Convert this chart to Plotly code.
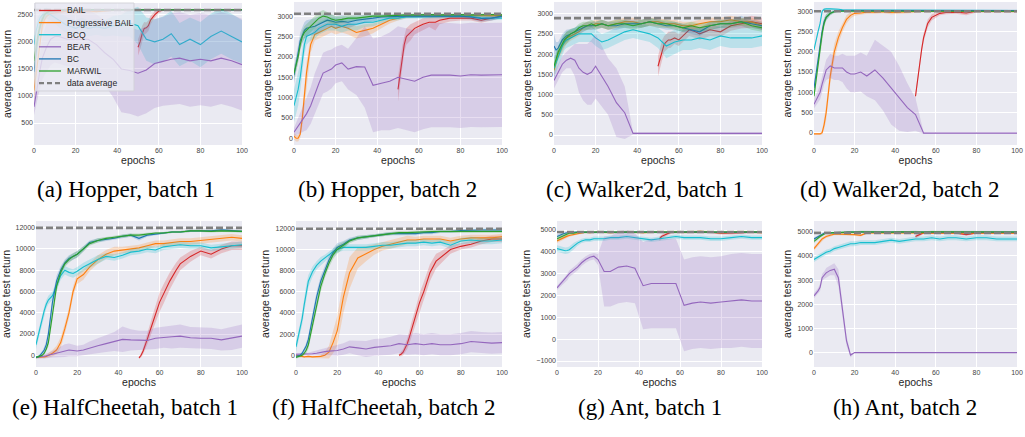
import numpy as np
import plotly.graph_objects as go

W, H = 1025, 437

# ---------------- data ----------------
X = [0, 1, 2, 3, 4, 5, 6, 8, 10, 12, 14, 16, 18, 20, 23, 26, 30, 34, 38, 42, 46,
     50, 54, 58, 62, 66, 70, 75, 80, 85, 90, 95, 100]
XR = [50, 51, 52, 53, 54, 55, 56, 58, 60, 62, 65, 68, 70, 75, 80, 85, 90, 95, 100]

SERIES = ["BAIL", "Progressive BAIL", "BCQ", "BEAR", "BC", "MARWIL"]
COLORS = {"BAIL": "#d62728", "Progressive BAIL": "#ff7f0e", "BCQ": "#17becf",
          "BEAR": "#9467bd", "BC": "#1f77b4", "MARWIL": "#2ca02c"}

# (a) Hopper, batch 1
HOP1_AVG = 2590
HOP1_BAIL = [1900, 2000, 2150, 2250, 2260, 2300, 2400, 2500, 2570, 2590, 2595, 2595, 2595, 2595, 2590, 2595, 2595, 2590, 2595]
HOP1_BAIL_SD = [150, 150, 150, 120, 100, 100, 80, 60, 40, 20, 10, 10, 10, 10, 10, 10, 10, 10, 10]
HOP1_PB = [1100, 1400, 1800, 2100, 2300, 2400, 2470, 2520, 2540, 2550, 2560, 2570, 2560, 2550, 2560, 2570, 2560, 2575, 2585, 2590, 2590,
           2595, 2595, 2590, 2595, 2595, 2590, 2595, 2595, 2590, 2595, 2595, 2595]
HOP1_PB_SD = [200, 200, 200, 150, 120, 100, 80, 60, 50, 40, 40, 40, 40, 40, 40, 40, 30, 20, 15, 10, 10,
              10, 10, 10, 10, 10, 10, 10, 10, 10, 10, 10, 10]
HOP1_BCQ = [1950, 2200, 2350, 2450, 2500, 2520, 2530, 2500, 2450, 2400, 2350, 2300, 2280, 2250, 2300, 2250, 2280, 2250, 2300, 2300, 2350,
            2300, 2050, 2000, 2050, 2150, 1950, 2050, 1950, 2100, 2200, 2100, 2000]
HOP1_BCQ_SD = [150, 150, 120, 100, 100, 100, 100, 100, 120, 130, 150, 150, 150, 150, 150, 150, 150, 150, 180, 200, 250,
               350, 400, 420, 420, 420, 400, 400, 420, 420, 420, 420, 400]
HOP1_BEAR = [800, 1050, 1300, 1500, 1700, 1800, 1900, 2050, 2100, 2100, 2080, 2050, 2050, 2050, 2050, 2050, 1950, 1800, 1680, 1500, 1470,
             1420, 1480, 1600, 1640, 1680, 1700, 1650, 1680, 1650, 1700, 1650, 1580]
HOP1_BEAR_SD = [150, 200, 300, 350, 400, 420, 450, 480, 480, 500, 500, 500, 500, 520, 520, 540, 560, 600, 700, 800, 800,
                800, 800, 820, 820, 850, 850, 850, 850, 850, 850, 850, 850]
HOP1_BC = [1450, 1800, 2100, 2300, 2430, 2500, 2540, 2570, 2580, 2590, 2590, 2595, 2595, 2590, 2595, 2595, 2590, 2595, 2595, 2590, 2595,
           2595, 2595, 2595, 2590, 2595, 2595, 2590, 2595, 2595, 2595, 2595, 2590]
HOP1_BC_SD = [150, 200, 150, 120, 100, 80, 60, 40, 30, 20, 15, 10, 10, 10, 10, 10, 10, 10, 10, 10, 10,
              10, 10, 10, 10, 10, 10, 10, 10, 10, 10, 10, 10]
HOP1_MW = [1650, 1900, 2150, 2300, 2420, 2500, 2540, 2570, 2585, 2590, 2595, 2595, 2595, 2595, 2595, 2590, 2595, 2595, 2590, 2595, 2595,
           2595, 2595, 2590, 2595, 2595, 2595, 2595, 2590, 2595, 2595, 2590, 2595]
HOP1_MW_SD = [150, 150, 120, 100, 80, 60, 50, 40, 30, 20, 15, 10, 10, 10, 10, 10, 10, 10, 10, 10, 10,
              10, 10, 10, 10, 10, 10, 10, 10, 10, 10, 10, 10]

# (b) Hopper, batch 2
HOP2_AVG = 3060
HOP2_BAIL = [1200, 1600, 2000, 2300, 2500, 2550, 2600, 2700, 2750, 2800, 2850, 2850, 2900, 2950, 2950, 2950, 2900, 2950, 3000]
HOP2_BAIL_SD = [300, 300, 250, 200, 200, 200, 200, 150, 150, 150, 120, 200, 100, 80, 60, 60, 60, 60, 50]
HOP2_PB = [50, 0, 0, 100, 500, 1000, 1600, 2300, 2550, 2600, 2650, 2700, 2750, 2700, 2750, 2700, 2600, 2650, 2700, 2800, 2900,
           2950, 3000, 3000, 3000, 3010, 3010, 3010, 3010, 3000, 3010, 3010, 3010]
HOP2_PB_SD = [80, 80, 80, 100, 200, 250, 250, 200, 150, 150, 150, 150, 150, 150, 150, 150, 150, 150, 120, 100, 80,
              60, 50, 40, 40, 40, 40, 40, 40, 40, 40, 40, 40]
HOP2_BCQ = [800, 1000, 1200, 1500, 1900, 2300, 2500, 2550, 2600, 2700, 2750, 2800, 2800, 2800, 2750, 2800, 2800, 2850, 2850, 2900, 2950,
            2950, 2980, 2980, 2980, 2990, 2990, 2990, 3000, 2990, 2960, 2950, 2950]
HOP2_BCQ_SD = [400, 400, 400, 350, 300, 250, 200, 150, 150, 150, 150, 150, 150, 150, 150, 150, 150, 120, 100, 80, 60,
               50, 40, 40, 40, 40, 40, 40, 40, 40, 50, 50, 40]
HOP2_BEAR = [150, 220, 300, 380, 450, 530, 600, 800, 1100, 1350, 1600, 1650, 1700, 1800, 1850, 1700, 1760, 1750, 1300, 1350, 1400,
             1500, 1450, 1400, 1500, 1550, 1550, 1550, 1530, 1560, 1550, 1550, 1560]
HOP2_BEAR_SD = [100, 150, 200, 250, 300, 350, 400, 450, 500, 500, 500, 500, 480, 450, 450, 500, 700, 1000, 1150, 1150, 1200,
                1250, 1250, 1250, 1280, 1280, 1280, 1280, 1280, 1280, 1280, 1280, 1280]
HOP2_BC = [1550, 1800, 2100, 2400, 2550, 2650, 2700, 2720, 2750, 2800, 2850, 2900, 2880, 2850, 2870, 2850, 2900, 2920, 2950, 2980, 2990,
           3000, 3000, 3000, 3000, 3010, 3000, 3000, 3000, 2980, 2940, 2950, 3000]
HOP2_BC_SD = [200, 200, 200, 200, 200, 200, 200, 200, 200, 200, 200, 180, 150, 150, 150, 150, 120, 100, 80, 60, 50,
              40, 40, 40, 40, 40, 40, 40, 50, 60, 80, 60, 40]
HOP2_MW = [1600, 1800, 2000, 2300, 2500, 2600, 2650, 2750, 2850, 2950, 3000, 2980, 2930, 2900, 2920, 2950, 2950, 2980, 3000, 3000, 3010,
           3030, 3030, 3030, 3040, 3040, 3030, 3040, 3040, 3030, 3040, 3040, 3030]
HOP2_MW_SD = [150, 150, 150, 150, 150, 150, 150, 150, 150, 150, 150, 120, 100, 100, 80, 80, 60, 50, 40, 40, 30,
              30, 30, 30, 30, 30, 30, 30, 30, 30, 30, 30, 30]

# (c) Walker2d, batch 1
WAL1_AVG = 2890
WAL1_BAIL = [1700, 1900, 2100, 2250, 2300, 2350, 2350, 2400, 2350, 2450, 2600, 2550, 2500, 2600, 2550, 2700, 2750, 2800, 2750]
WAL1_BAIL_SD = [250, 250, 250, 200, 200, 200, 200, 150, 150, 150, 150, 150, 150, 150, 120, 120, 120, 150, 150]
WAL1_PB = [1600, 1800, 2000, 2100, 2200, 2300, 2400, 2450, 2500, 2550, 2650, 2700, 2700, 2750, 2750, 2700, 2750, 2800, 2800, 2750, 2800,
           2800, 2750, 2750, 2700, 2700, 2750, 2800, 2800, 2850, 2800, 2800, 2700]
WAL1_PB_SD = [150, 150, 150, 150, 150, 150, 150, 120, 100, 100, 100, 100, 100, 100, 100, 100, 100, 100, 100, 100, 100,
              100, 100, 100, 100, 100, 100, 100, 100, 100, 100, 100, 100]
WAL1_BCQ = [1650, 1800, 1900, 2050, 2200, 2300, 2350, 2400, 2450, 2500, 2500, 2500, 2500, 2400, 2300, 2350, 2450, 2550, 2600, 2550, 2500,
            2400, 2200, 2300, 2350, 2350, 2400, 2350, 2450, 2400, 2400, 2400, 2450]
WAL1_BCQ_SD = [250, 250, 250, 250, 250, 200, 200, 200, 200, 200, 200, 200, 200, 200, 200, 200, 200, 200, 200, 200, 200,
               250, 300, 300, 250, 250, 250, 250, 250, 250, 250, 250, 250]
WAL1_BEAR = [1350, 1450, 1550, 1650, 1750, 1800, 1850, 1900, 1850, 1650, 1550, 1500, 1550, 1700, 1450, 1200, 800, 550, 40, 40, 40,
             40, 40, 40, 40, 40, 40, 40, 40, 40, 40, 40, 40]
WAL1_BEAR_SD = [200, 200, 200, 200, 200, 200, 200, 250, 400, 600, 700, 750, 800, 800, 750, 700, 850, 650, 30, 30, 30,
                30, 30, 30, 30, 30, 30, 30, 30, 30, 30, 30, 30]
WAL1_BC = [2200, 2100, 2150, 2250, 2350, 2400, 2450, 2500, 2550, 2600, 2650, 2700, 2700, 2700, 2750, 2700, 2700, 2750, 2750, 2750, 2800,
           2750, 2700, 2700, 2650, 2600, 2550, 2700, 2750, 2750, 2800, 2750, 2700]
WAL1_BC_SD = [300, 200, 150, 150, 150, 150, 150, 120, 100, 100, 100, 100, 100, 100, 100, 100, 100, 100, 100, 100, 100,
              100, 100, 100, 100, 100, 100, 100, 100, 100, 150, 100, 100]
WAL1_MW = [1700, 1900, 2050, 2150, 2250, 2350, 2400, 2500, 2550, 2650, 2700, 2700, 2750, 2700, 2750, 2700, 2750, 2750, 2700, 2750, 2800,
           2750, 2750, 2700, 2650, 2700, 2650, 2700, 2750, 2750, 2800, 2700, 2650]
WAL1_MW_SD = [150, 150, 150, 150, 150, 150, 150, 120, 100, 100, 100, 100, 100, 100, 100, 100, 100, 100, 100, 100, 100,
              100, 100, 100, 100, 100, 100, 100, 100, 100, 100, 100, 100]

# (d) Walker2d, batch 2
WAL2_AVG = 3000
WAL2_BAIL = [900, 1300, 1700, 2050, 2350, 2550, 2700, 2850, 2900, 2950, 2970, 2980, 2980, 2960, 3000, 3000, 3000, 3000, 3000]
WAL2_BAIL_SD = [100, 100, 100, 100, 100, 100, 100, 80, 60, 50, 40, 40, 40, 60, 30, 30, 30, 30, 30]
WAL2_PB = [-30, -30, -30, -30, 0, 200, 500, 1400, 2000, 2350, 2600, 2800, 2900, 2950, 2960, 2980, 2980, 2990, 2970, 2980, 2990,
           3000, 3000, 3000, 3000, 3000, 3000, 3000, 3000, 3000, 3000, 3000, 3000]
WAL2_PB_SD = [20, 20, 20, 20, 50, 120, 180, 200, 200, 150, 120, 100, 80, 60, 50, 40, 40, 40, 40, 40, 40,
              30, 30, 30, 30, 30, 30, 30, 30, 30, 30, 30, 30]
WAL2_BCQ = [2050, 2300, 2500, 2700, 3000, 3050, 3060, 3060, 3060, 3050, 3040, 3030, 3030, 3030, 3030, 3020, 3020, 3020, 3020, 3020, 3020,
            3020, 3020, 3020, 3020, 3020, 3020, 3020, 3020, 3020, 3020, 3020, 3020]
WAL2_BCQ_SD = [50, 50, 50, 50, 40, 30, 20, 20, 20, 20, 20, 20, 20, 20, 20, 20, 20, 20, 20, 20, 20,
               20, 20, 20, 20, 20, 20, 20, 20, 20, 20, 20, 20]
WAL2_BEAR = [700, 800, 900, 1000, 1200, 1400, 1550, 1650, 1600, 1600, 1600, 1500, 1450, 1450, 1500, 1400, 1550, 1350, 1100, 850, 620,
             450, -10, -10, -10, -10, -10, -10, -10, -10, -10, -10, -10]
WAL2_BEAR_SD = [100, 120, 150, 180, 200, 200, 250, 300, 300, 300, 350, 400, 450, 450, 480, 500, 750, 800, 900, 800, 600,
                400, 20, 10, 10, 10, 10, 10, 10, 10, 10, 10, 10]
WAL2_BC = [1100, 1450, 1800, 2200, 2500, 2750, 2850, 2950, 3000, 3010, 3020, 3020, 3020, 3020, 3020, 3020, 3020, 3020, 3020, 3020, 3020,
           3020, 3020, 3020, 3020, 3020, 3020, 3020, 3020, 3020, 3020, 3020, 3020]
WAL2_BC_SD = [100, 100, 150, 150, 150, 100, 80, 50, 30, 20, 20, 20, 20, 20, 20, 20, 20, 20, 20, 20, 20,
              20, 20, 20, 20, 20, 20, 20, 20, 20, 20, 20, 20]
WAL2_MW = [900, 1300, 1700, 2100, 2450, 2700, 2850, 2950, 2990, 3000, 3000, 3000, 3000, 3000, 3000, 3000, 3000, 3000, 3000, 3000, 3000,
           3000, 3000, 3000, 3000, 3000, 3000, 3000, 3000, 3000, 3000, 3000, 3000]
WAL2_MW_SD = [80, 100, 120, 120, 120, 100, 80, 50, 30, 20, 20, 20, 20, 20, 20, 20, 20, 20, 20, 20, 20,
              20, 20, 20, 20, 20, 20, 20, 20, 20, 20, 20, 20]

# (e) HalfCheetah, batch 1
HC1_AVG = 11980
HC1_BAIL = [-250, 0, 400, 900, 1500, 2100, 2700, 3800, 5000, 5800, 7000, 8000, 8600, 9300, 9800, 9500, 10000, 10300, 10300]
HC1_BAIL_SD = [100, 200, 300, 400, 500, 600, 700, 800, 900, 900, 800, 700, 600, 500, 400, 400, 400, 400, 400]
HC1_PB = [-200, -200, -200, -180, -150, -100, 0, 200, 500, 1200, 2500, 4000, 6000, 7200, 7600, 8300, 9000, 9500, 9800, 9900, 10000,
          10100, 10300, 10500, 10500, 10600, 10700, 10700, 10800, 10900, 11000, 11100, 11000]
HC1_PB_SD = [100, 100, 100, 100, 100, 150, 200, 300, 400, 500, 500, 500, 500, 500, 500, 400, 400, 400, 400, 300, 300,
             300, 300, 300, 300, 300, 300, 300, 300, 300, 300, 300, 300]
HC1_BCQ = [1000, 1800, 2700, 3500, 4200, 4800, 5200, 5600, 6500, 7500, 8000, 7800, 7700, 7900, 8300, 8600, 9000, 9300, 9200, 9400, 9700,
           9800, 10000, 9900, 10200, 10300, 10400, 10300, 10300, 10100, 10200, 10300, 10400]
HC1_BCQ_SD = [400, 400, 400, 400, 400, 400, 400, 400, 400, 400, 400, 400, 400, 400, 400, 400, 400, 300, 300, 300, 300,
              300, 300, 300, 300, 300, 300, 300, 300, 300, 300, 300, 300]
HC1_BEAR = [-200, -180, -150, -130, -100, -50, 0, 100, 200, 350, 450, 500, 450, 400, 500, 700, 900, 1100, 1300, 1500, 1450,
            1400, 1400, 1600, 1700, 1750, 1800, 1650, 1600, 1600, 1450, 1600, 1800]
HC1_BEAR_SD = [100, 100, 150, 150, 200, 200, 250, 300, 400, 500, 600, 600, 550, 500, 500, 600, 700, 800, 900, 1200, 1000,
               900, 900, 1000, 1000, 1100, 1100, 1000, 1000, 1000, 1000, 1100, 1100]
HC1_BC = [-200, -150, 0, 200, 500, 1000, 2000, 5000, 7000, 8000, 8700, 9100, 9300, 9500, 10000, 10600, 10800, 10900, 11000, 11200, 11300,
          11000, 11300, 11400, 11500, 11600, 11600, 11700, 11700, 11700, 11800, 11700, 11650]
HC1_BC_SD = [100, 100, 150, 200, 300, 400, 500, 500, 500, 400, 300, 300, 300, 300, 250, 200, 200, 150, 150, 150, 150,
             200, 150, 100, 100, 100, 100, 100, 100, 100, 100, 100, 100]
HC1_MW = [-200, -150, -100, 0, 200, 600, 1200, 3800, 6500, 7800, 8600, 9000, 9300, 9500, 10000, 10500, 10800, 11000, 11100, 11200, 11300,
          11300, 11400, 11500, 11500, 11600, 11600, 11700, 11700, 11650, 11700, 11650, 11650]
HC1_MW_SD = [100, 100, 100, 100, 150, 200, 400, 500, 500, 400, 300, 300, 300, 300, 250, 200, 200, 150, 150, 150, 150,
             150, 150, 100, 100, 100, 100, 100, 100, 100, 100, 100, 100]

# (f) HalfCheetah, batch 2
HC2_AVG = 11960
HC2_BAIL = [0, 100, 300, 700, 1100, 1700, 2400, 3600, 5000, 6000, 7800, 8900, 9200, 10000, 10300, 10500, 10800, 11000, 11000]
HC2_BAIL_SD = [100, 200, 300, 400, 500, 600, 700, 800, 900, 900, 800, 700, 600, 400, 300, 300, 300, 300, 300]
HC2_PB = [0, -50, -100, -130, -150, -120, -100, -150, -150, -100, 0, 300, 1200, 2300, 5500, 7800, 9200, 9600, 10000, 10300, 10500,
          10700, 10900, 10900, 11000, 11000, 11000, 10800, 11000, 11100, 11100, 11100, 11200]
HC2_PB_SD = [100, 100, 100, 100, 100, 100, 100, 100, 100, 150, 300, 600, 1000, 1400, 1500, 1500, 1000, 700, 500, 400, 400,
             400, 400, 300, 300, 300, 300, 300, 300, 300, 300, 300, 300]
HC2_BCQ = [800, 1600, 2500, 3500, 4800, 6000, 7000, 7900, 8500, 8900, 9200, 9500, 9800, 10000, 10200, 10200, 10200, 10200, 10300, 10400, 10400,
           10500, 10600, 10600, 10700, 10600, 10700, 10400, 10800, 10900, 10800, 10800, 10900]
HC2_BCQ_SD = [500, 500, 500, 600, 700, 700, 600, 500, 400, 400, 300, 300, 300, 300, 300, 300, 300, 300, 300, 300, 300,
              300, 300, 300, 300, 300, 300, 300, 300, 300, 300, 300, 300]
HC2_BEAR = [100, 100, 100, 100, 100, 100, 100, 150, 200, 300, 350, 400, 420, 450, 600, 800, 700, 600, 750, 800, 900,
            1100, 1000, 1100, 1000, 1100, 1000, 1000, 1100, 1300, 1200, 1150, 1200]
HC2_BEAR_SD = [100, 100, 100, 100, 100, 100, 150, 200, 250, 300, 350, 400, 450, 500, 550, 600, 700, 750, 800, 800, 850,
               900, 950, 1000, 1000, 1000, 1000, 1000, 1000, 1000, 1000, 1000, 1000]
HC2_BC = [-100, -50, 0, 200, 500, 900, 1500, 3500, 5500, 7000, 8000, 9000, 9700, 10200, 10500, 10900, 11100, 11200, 11300, 11400, 11500,
          11500, 11500, 11500, 11600, 11600, 11700, 11700, 11800, 11850, 11850, 11850, 11850]
HC2_BC_SD = [100, 100, 100, 150, 200, 300, 400, 500, 500, 500, 400, 400, 400, 400, 300, 200, 200, 150, 150, 150, 150,
             150, 150, 150, 150, 150, 150, 150, 150, 150, 150, 150, 150]
HC2_MW = [-200, -150, -100, 0, 200, 500, 1000, 2800, 4800, 6500, 7700, 8700, 9500, 10000, 10400, 10800, 11100, 11200, 11300, 11400, 11500,
          11600, 11600, 11650, 11650, 11700, 11700, 11700, 11700, 11750, 11750, 11700, 11700]
HC2_MW_SD = [100, 100, 100, 150, 200, 300, 400, 500, 500, 500, 400, 400, 400, 400, 300, 200, 200, 150, 150, 150, 150,
             150, 150, 150, 150, 150, 150, 150, 150, 150, 150, 150, 150]

# (g) Ant, batch 1
ANT1_AVG = 4910
ANT1_BAIL = [4600, 4700, 4750, 4800, 4850, 4880, 4900, 4900, 4910, 4900, 4900, 4920, 4900, 4900, 4850, 4850, 4880, 4900, 4900]
ANT1_BAIL_SD = [100, 100, 100, 80, 80, 60, 60, 50, 50, 50, 50, 50, 50, 50, 50, 50, 50, 50, 50]
ANT1_PB = [4500, 4550, 4600, 4650, 4700, 4720, 4750, 4800, 4850, 4870, 4900, 4880, 4900, 4920, 4900, 4880, 4900, 4920, 4900, 4880, 4900,
           4920, 4900, 4920, 4900, 4920, 4940, 4900, 4880, 4900, 4920, 4900, 4880]
ANT1_PB_SD = [100, 100, 100, 100, 80, 80, 60, 60, 50, 50, 50, 50, 50, 50, 50, 50, 50, 50, 50, 50, 50,
              50, 50, 50, 50, 50, 50, 50, 50, 50, 50, 50, 50]
ANT1_BCQ = [4150, 4120, 4100, 4070, 4050, 4060, 4100, 4250, 4400, 4500, 4550, 4550, 4600, 4600, 4600, 4650, 4650, 4700, 4650, 4600, 4550,
            4600, 4650, 4700, 4650, 4650, 4650, 4600, 4600, 4650, 4700, 4650, 4650]
ANT1_BCQ_SD = [150, 150, 150, 150, 150, 150, 150, 150, 120, 100, 100, 100, 100, 100, 100, 100, 100, 100, 100, 100, 100,
               100, 100, 100, 100, 100, 100, 100, 100, 100, 100, 100, 100]
ANT1_BEAR = [2350, 2450, 2550, 2650, 2750, 2850, 3000, 3150, 3300, 3500, 3650, 3750, 3800, 3650, 3100, 3100, 3300, 3350, 3250, 2450, 2550,
             2550, 2550, 2550, 1550, 1650, 1700, 1650, 1700, 1750, 1800, 1750, 1750]
ANT1_BEAR_SD = [100, 100, 100, 120, 120, 150, 150, 150, 150, 150, 150, 150, 150, 250, 1600, 1600, 1650, 1650, 1600, 2000, 2050,
                2050, 2050, 2050, 2100, 2100, 2100, 2100, 2100, 2150, 2150, 2150, 2150]
ANT1_BC = [4700, 4750, 4800, 4830, 4850, 4870, 4900, 4900, 4910, 4900, 4920, 4910, 4900, 4910, 4920, 4900, 4910, 4920, 4900, 4910, 4920,
           4900, 4910, 4920, 4900, 4910, 4920, 4900, 4910, 4920, 4900, 4910, 4900]
ANT1_BC_SD = [80, 80, 80, 60, 60, 60, 50, 50, 50, 50, 50, 50, 50, 50, 50, 50, 50, 50, 50, 50, 50,
              50, 50, 50, 50, 50, 50, 50, 50, 50, 50, 50, 50]
ANT1_MW = [4600, 4650, 4700, 4750, 4800, 4820, 4850, 4850, 4900, 4900, 4900, 4920, 4900, 4920, 4900, 4920, 4910, 4920, 4900, 4920, 4910,
           4920, 4900, 4920, 4910, 4930, 4900, 4920, 4900, 4910, 4920, 4900, 4910]
ANT1_MW_SD = [100, 100, 100, 80, 80, 60, 60, 50, 50, 50, 50, 50, 50, 50, 50, 50, 50, 50, 50, 50, 50,
              50, 50, 50, 50, 50, 50, 50, 50, 50, 50, 50, 50]

# (h) Ant, batch 2
ANT2_AVG = 4950
ANT2_BAIL = [4800, 4850, 4900, 4920, 4950, 4950, 4950, 4960, 4950, 4960, 4950, 4960, 4950, 4880, 4950, 4960, 4950, 4960, 4950]
ANT2_BAIL_SD = [80, 80, 60, 60, 50, 50, 50, 50, 50, 50, 50, 50, 50, 50, 50, 50, 50, 50, 50]
ANT2_PB = [4300, 4400, 4500, 4600, 4700, 4750, 4800, 4850, 4900, 4900, 4900, 4900, 4900, 4880, 4850, 4950, 4950, 4950, 4940, 4950, 4960,
           4950, 4940, 4950, 4960, 4970, 4950, 4950, 4960, 4950, 4950, 4950, 4950]
ANT2_PB_SD = [80, 80, 80, 80, 70, 60, 60, 50, 50, 50, 50, 50, 50, 50, 50, 50, 50, 50, 50, 50, 50,
              50, 50, 50, 50, 50, 50, 50, 50, 50, 50, 50, 50]
ANT2_BCQ = [3850, 3900, 3950, 4000, 4050, 4100, 4150, 4200, 4300, 4350, 4400, 4450, 4500, 4500, 4550, 4550, 4550, 4600, 4650, 4600, 4650,
            4700, 4700, 4750, 4700, 4750, 4750, 4700, 4750, 4750, 4700, 4700, 4700]
ANT2_BCQ_SD = [100, 100, 100, 100, 100, 100, 100, 100, 100, 100, 100, 100, 100, 100, 100, 100, 100, 100, 100, 100, 100,
               100, 100, 100, 100, 100, 100, 100, 100, 100, 100, 100, 100]
ANT2_BEAR = [2350, 2450, 2550, 2700, 3100, 3200, 3300, 3400, 3450, 3100, 1800, 500, -100, 0, 0, 0, 0, 0, 0, 0, 0,
             0, 0, 0, 0, 0, 0, 0, 0, 0, 0, 0, 0]
ANT2_BEAR_SD = [100, 100, 120, 150, 150, 150, 200, 200, 250, 350, 300, 200, 100, 10, 10, 10, 10, 10, 10, 10, 10,
                10, 10, 10, 10, 10, 10, 10, 10, 10, 10, 10, 10]
ANT2_BC = [4700, 4750, 4800, 4850, 4900, 4930, 4950, 4950, 4960, 4970, 4980, 4980, 4990, 4990, 4980, 4990, 5000, 4990, 4980, 4990, 4990,
           4980, 4990, 5000, 5000, 4990, 4990, 5000, 5000, 5000, 5000, 5000, 4990]
ANT2_BC_SD = [60, 60, 60, 50, 50, 50, 40, 40, 40, 40, 40, 40, 40, 40, 40, 40, 40, 40, 40, 40, 40,
              40, 40, 40, 40, 40, 40, 40, 40, 40, 40, 40, 40]
ANT2_MW = [4600, 4680, 4750, 4800, 4850, 4900, 4950, 4950, 4950, 4970, 4980, 4980, 4990, 4980, 5000, 4990, 5000, 4990, 4980, 5000, 4990,
           5000, 4980, 5000, 5000, 4990, 5000, 5000, 4990, 5000, 4990, 5000, 4990]
ANT2_MW_SD = [80, 80, 60, 60, 50, 50, 40, 40, 40, 40, 40, 40, 40, 40, 40, 40, 40, 40, 40, 40, 40,
              40, 40, 40, 40, 40, 40, 40, 40, 40, 40, 40, 40]

CAPTIONS = ["(a) Hopper, batch 1", "(b) Hopper, batch 2", "(c) Walker2d, batch 1", "(d) Walker2d, batch 2",
            "(e) HalfCheetah, batch 1", "(f) HalfCheetah, batch 2", "(g) Ant, batch 1", "(h) Ant, batch 2"]
LEGEND_LABELS = ["BAIL", "Progressive BAIL", "BCQ", "BEAR", "BC", "MARWIL", "data average"]

# ---------------- panel setup ----------------
def pack(bail, bail_sd, pb, pb_sd, bcq, bcq_sd, bear, bear_sd, bc, bc_sd, mw, mw_sd):
    return {"BAIL": (bail, bail_sd), "Progressive BAIL": (pb, pb_sd), "BCQ": (bcq, bcq_sd),
            "BEAR": (bear, bear_sd), "BC": (bc, bc_sd), "MARWIL": (mw, mw_sd)}

PANELS = [
    dict(data=pack(HOP1_BAIL, HOP1_BAIL_SD, HOP1_PB, HOP1_PB_SD, HOP1_BCQ, HOP1_BCQ_SD, HOP1_BEAR, HOP1_BEAR_SD, HOP1_BC, HOP1_BC_SD, HOP1_MW, HOP1_MW_SD),
         avg=HOP1_AVG, yr=[94, 2719], dt=500, dx=(34, 242), dy=(3, 145), cap=(126, 189)),
    dict(data=pack(HOP2_BAIL, HOP2_BAIL_SD, HOP2_PB, HOP2_PB_SD, HOP2_BCQ, HOP2_BCQ_SD, HOP2_BEAR, HOP2_BEAR_SD, HOP2_BC, HOP2_BC_SD, HOP2_MW, HOP2_MW_SD),
         avg=HOP2_AVG, yr=[-165, 3347], dt=500, dx=(294, 502), dy=(2, 145), cap=(387, 189)),
    dict(data=pack(WAL1_BAIL, WAL1_BAIL_SD, WAL1_PB, WAL1_PB_SD, WAL1_BCQ, WAL1_BCQ_SD, WAL1_BEAR, WAL1_BEAR_SD, WAL1_BC, WAL1_BC_SD, WAL1_MW, WAL1_MW_SD),
         avg=WAL1_AVG, yr=[-247, 3288], dt=500, dx=(554, 762), dy=(2, 145), cap=(645, 189)),
    dict(data=pack(WAL2_BAIL, WAL2_BAIL_SD, WAL2_PB, WAL2_PB_SD, WAL2_BCQ, WAL2_BCQ_SD, WAL2_BEAR, WAL2_BEAR_SD, WAL2_BC, WAL2_BC_SD, WAL2_MW, WAL2_MW_SD),
         avg=WAL2_AVG, yr=[-304, 3230], dt=500, dx=(814, 1017), dy=(2, 145), cap=(900, 189)),
    dict(data=pack(HC1_BAIL, HC1_BAIL_SD, HC1_PB, HC1_PB_SD, HC1_BCQ, HC1_BCQ_SD, HC1_BEAR, HC1_BEAR_SD, HC1_BC, HC1_BC_SD, HC1_MW, HC1_MW_SD),
         avg=HC1_AVG, yr=[-1100, 12630], dt=2000, dx=(36, 242), dy=(221, 367), cap=(125, 407)),
    dict(data=pack(HC2_BAIL, HC2_BAIL_SD, HC2_PB, HC2_PB_SD, HC2_BCQ, HC2_BCQ_SD, HC2_BEAR, HC2_BEAR_SD, HC2_BC, HC2_BC_SD, HC2_MW, HC2_MW_SD),
         avg=HC2_AVG, yr=[-1105, 12695], dt=2000, dx=(296, 502), dy=(221, 367), cap=(384, 407)),
    dict(data=pack(ANT1_BAIL, ANT1_BAIL_SD, ANT1_PB, ANT1_PB_SD, ANT1_BCQ, ANT1_BCQ_SD, ANT1_BEAR, ANT1_BEAR_SD, ANT1_BC, ANT1_BC_SD, ANT1_MW, ANT1_MW_SD),
         avg=ANT1_AVG, yr=[-1275, 5413], dt=1000, dx=(557, 762), dy=(221, 367), cap=(650, 407)),
    dict(data=pack(ANT2_BAIL, ANT2_BAIL_SD, ANT2_PB, ANT2_PB_SD, ANT2_BCQ, ANT2_BCQ_SD, ANT2_BEAR, ANT2_BEAR_SD, ANT2_BC, ANT2_BC_SD, ANT2_MW, ANT2_MW_SD),
         avg=ANT2_AVG, yr=[-594, 5442], dt=1000, dx=(814, 1017), dy=(221, 367), cap=(905, 407)),
]


def rgba(hexc, a):
    h = hexc.lstrip("#")
    return "rgba(%d,%d,%d,%.2f)" % (int(h[0:2], 16), int(h[2:4], 16), int(h[4:6], 16), a)


fig = go.Figure()
layout = {}
annotations = []
shapes = []
TICKFONT = dict(family="Liberation Sans, Arial, sans-serif", size=7, color="#444444")
TITLEFONT = dict(family="Liberation Sans, Arial, sans-serif", size=10.5, color="#262626")

for i, p in enumerate(PANELS):
    suf = "" if i == 0 else str(i + 1)
    xa, ya = "x" + suf, "y" + suf
    for name in SERIES:
        xs = XR if name == "BAIL" else X
        m = np.array(p["data"][name][0], dtype=float)
        s = np.array(p["data"][name][1], dtype=float)
        c = COLORS[name]
        fig.add_trace(go.Scatter(x=xs, y=m + s, mode="lines", line=dict(width=0, color=c),
                                 hoverinfo="skip", showlegend=False, xaxis=xa, yaxis=ya))
        fig.add_trace(go.Scatter(x=xs, y=m - s, mode="lines", line=dict(width=0, color=c),
                                 fill="tonexty", fillcolor=rgba(c, 0.22),
                                 hoverinfo="skip", showlegend=False, xaxis=xa, yaxis=ya))
        fig.add_trace(go.Scatter(x=xs, y=m, mode="lines", line=dict(width=1.1, color=c),
                                 name=name, showlegend=False, xaxis=xa, yaxis=ya))
    fig.add_trace(go.Scatter(x=[X[0], X[-1]], y=[p["avg"], p["avg"]], mode="lines",
                             line=dict(width=2.6, color="#7f7f7f", dash="7px,3px"),
                             name="data average", showlegend=False, xaxis=xa, yaxis=ya))

    x0, x1 = p["dx"]
    y0, y1 = p["dy"]
    layout["xaxis" + suf] = dict(domain=[x0 / W, x1 / W], anchor=ya, range=[0, 100], dtick=20,
                                 showgrid=True, gridcolor="white", gridwidth=1, zeroline=False,
                                 showline=False, ticks="", tickfont=TICKFONT, ticklabeloverflow="allow",
                                 title=dict(text="epochs", font=TITLEFONT, standoff=1))
    layout["yaxis" + suf] = dict(domain=[1 - y1 / H, 1 - y0 / H], anchor=xa, range=p["yr"], dtick=p["dt"],
                                 tickformat="d", showgrid=True, gridcolor="white", gridwidth=1,
                                 zeroline=False, showline=False, ticks="", tickfont=TICKFONT,
                                 title=dict(text="average test return", font=TITLEFONT, standoff=3))
    cx, cy = p["cap"]
    annotations.append(dict(text=CAPTIONS[i], xref="paper", yref="paper", x=cx / W, y=1 - cy / H,
                            xanchor="center", yanchor="middle", showarrow=False,
                            font=dict(family="Liberation Serif, Times New Roman, serif", size=23, color="black")))

# ---- legend drawn inside panel (a) ----
LEG_COLORS = [COLORS[n] for n in SERIES] + ["#7f7f7f"]
shapes.append(dict(type="rect", xref="paper", yref="paper", x0=35 / W, x1=134 / W,
                   y0=1 - 91 / H, y1=1 - 3 / H, fillcolor="rgba(234,234,242,0.8)",
                   line=dict(color="rgba(210,210,215,0.9)", width=1), layer="above"))
for k, lab in enumerate(LEGEND_LABELS):
    yy = 1 - (10.5 + 12.1 * k) / H
    dash = "5px,3px" if lab == "data average" else "solid"
    lw = 2.4 if lab == "data average" else 1.3
    shapes.append(dict(type="line", xref="paper", yref="paper", x0=39 / W, x1=61 / W, y0=yy, y1=yy,
                       line=dict(color=LEG_COLORS[k], width=lw, dash=dash), layer="above"))
    annotations.append(dict(text=lab, xref="paper", yref="paper", x=65 / W, y=yy, xanchor="left",
                            yanchor="middle", showarrow=False,
                            font=dict(family="Liberation Sans, Arial, sans-serif", size=8.6, color="#262626")))

fig.update_layout(width=W, height=H, margin=dict(l=0, r=0, t=0, b=0, pad=0, autoexpand=False),
                  paper_bgcolor="white", plot_bgcolor="#EAEAF2", showlegend=False,
                  annotations=annotations, shapes=shapes, **layout)

fig.write_html("out.html")
